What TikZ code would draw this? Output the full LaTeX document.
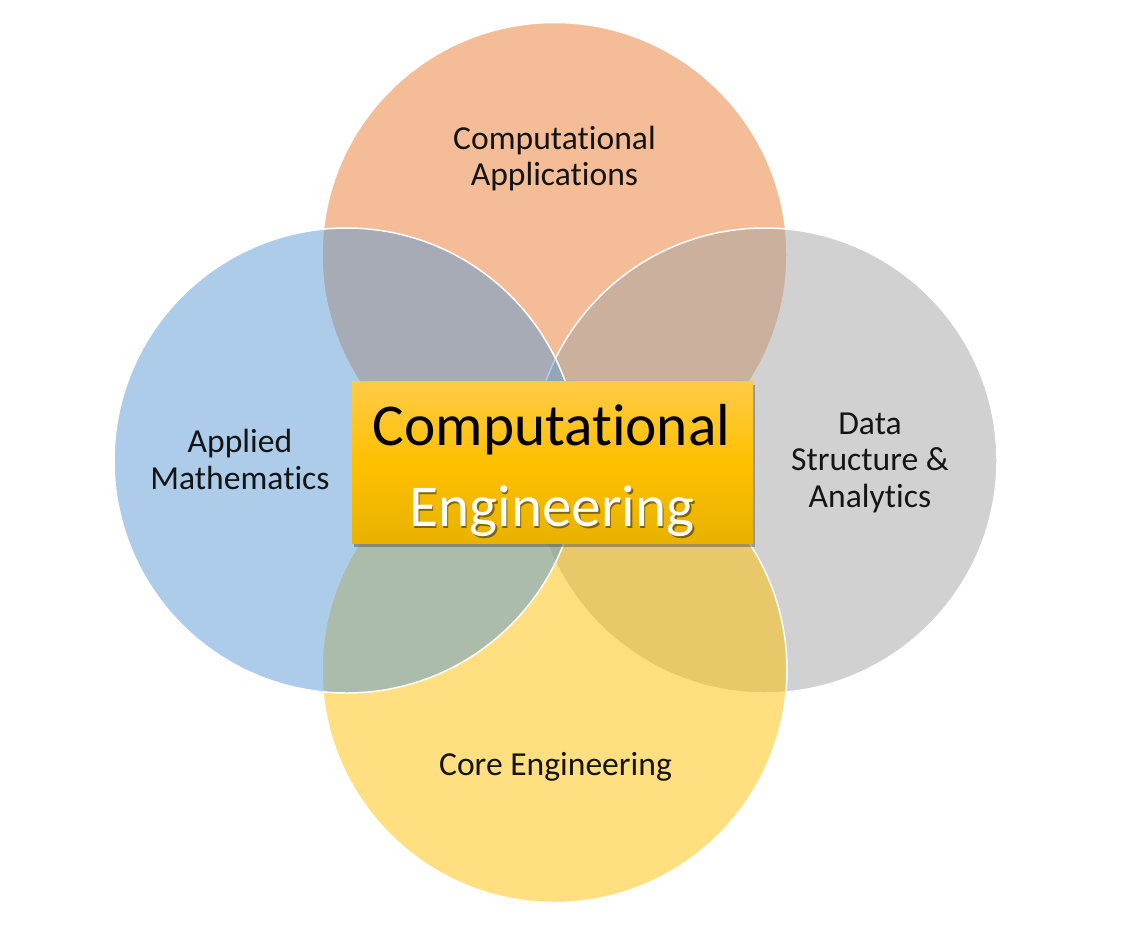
\documentclass[tikz,border=0pt]{standalone}
\usepackage{fontspec}
\setmainfont{Carlito}[Ligatures=NoCommon]
\usetikzlibrary{shadows,fadings}
\definecolor{cOrange}{HTML}{ED7D31}
\definecolor{cGray}{HTML}{A5A5A5}
\definecolor{cGold}{HTML}{FFC000}
\definecolor{cBlue}{HTML}{5B9BD5}
\definecolor{boxTop}{HTML}{FFCB48}
\definecolor{boxMid}{HTML}{FFC000}
\definecolor{boxBot}{HTML}{E8B200}
\definecolor{lblText}{HTML}{141414}
\tikzset{
  venn/.style={circle, minimum size=465pt, inner sep=0pt, draw=white, line width=1.5pt, fill opacity=0.5},
  lbl/.style={anchor=base, align=center, text=lblText, font=\fontsize{33.6}{36.5}\selectfont, inner sep=0pt},
  bigtxt/.style={anchor=base, inner sep=0pt, font=\fontsize{59.3}{80}\selectfont},
  cebox/.style={rectangle, minimum width=401pt, minimum height=162pt, inner sep=0pt,
    top color=boxTop, bottom color=boxBot, middle color=boxMid,
    drop shadow={shadow xshift=2pt, shadow yshift=-3pt, opacity=0.45, fill=black!70}}
}
\begin{document}
\begin{tikzpicture}[x=1pt,y=-1pt]
\fill[white] (0,0) rectangle (1143,927);
\useasboundingbox (0,0) rectangle (1143,927);
% circles, drawing order top, right, bottom, left
\node[venn, fill=cOrange] (ctop) at (554.5,255) {};
\node[venn, fill=cGray]   (cright) at (764.5,460.5) {};
\node[venn, fill=cGold]   (cbot) at (554.5,670) {};
\node[venn, fill=cBlue]   (cleft) at (346.5,460.5) {};
% labels (base anchor = last line baseline)
\node[lbl] (ltop) at (554.5,185.5) {Computational\\Applications};
\node[lbl] (lleft) at (240,489) {Applied\\Mathematics};
\node[lbl] (lright) at (870,507) {Data\\Structure \&\\Analytics};
\node[lbl] (lbot) at (555.5,775) {Core Engineering};
% central box
\node[cebox] (ce) at (552.5,462.5) {};
\node[bigtxt, text=black] (ct1) at (551.5,445) {Computational};
\node[bigtxt, text=black, opacity=0.45] (ct2s) at (553.5,528) {Engineering};
\node[bigtxt, text=white] (ct2) at (552,526) {Engineering};
\end{tikzpicture}
\end{document}
